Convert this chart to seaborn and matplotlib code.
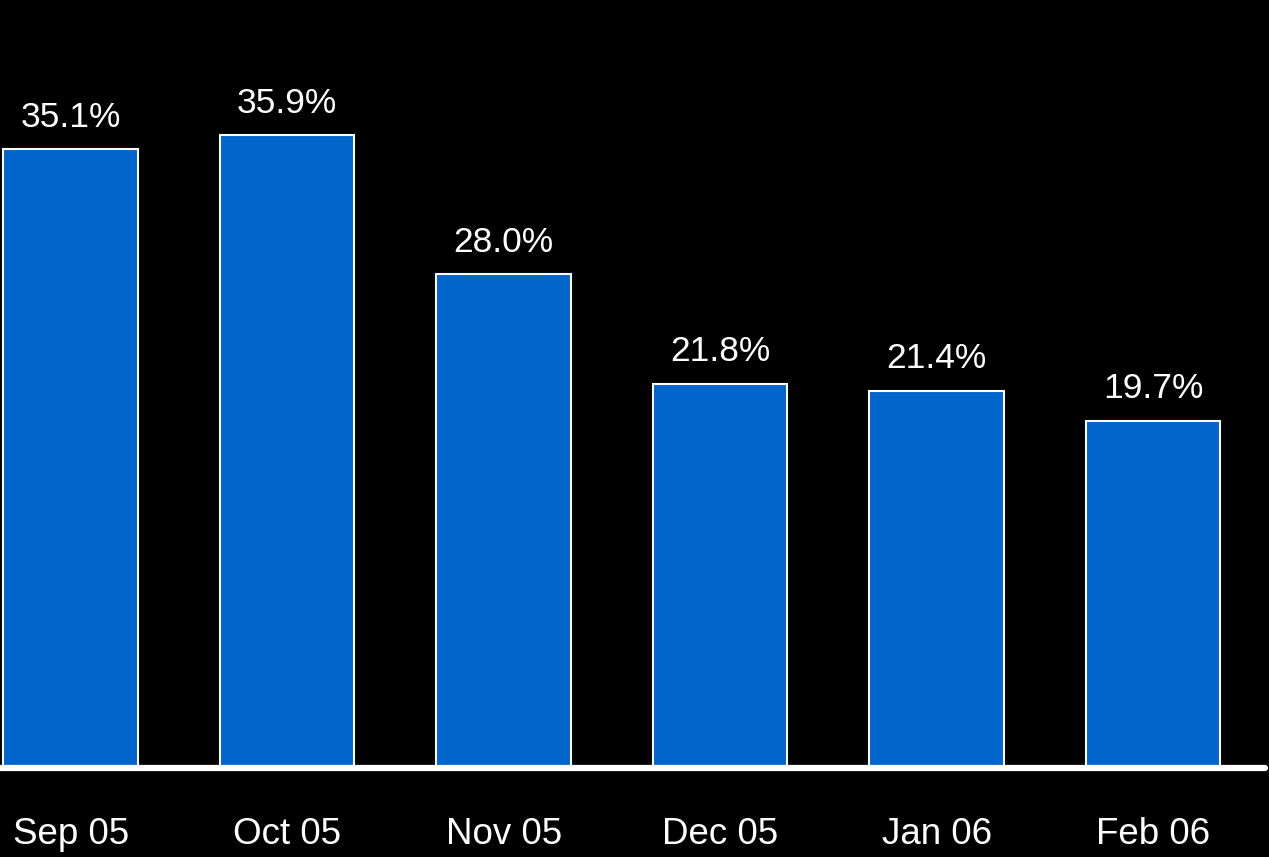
import matplotlib
matplotlib.use("Agg")
import matplotlib.pyplot as plt
import seaborn as sns
import pandas as pd

months = ["Sep 05", "Oct 05", "Nov 05", "Dec 05", "Jan 06", "Feb 06"]
share = [35.1, 35.9, 28.0, 21.8, 21.4, 19.7]

sns.set_style("dark")
plt.rcParams["font.family"] = ["Liberation Sans", "DejaVu Sans"]

df = pd.DataFrame({"month": months, "share": share})

fig = plt.figure(figsize=(12.69, 8.57), dpi=100, facecolor="black")
ax = fig.add_axes([0, 0.1039, 1265 / 1269, 0.8961])
ax.set_facecolor("black")

sns.barplot(data=df, x="month", y="share", color="#0066CC", saturation=1,
            edgecolor="white", linewidth=1.5, width=0.62, ax=ax)

ax.bar_label(ax.containers[0], labels=[f"{v:.1f}%" for v in share],
             padding=11, color="white", fontsize=25.5)

ax.set_xlim(-0.326, 5.517)
ax.set_ylim(0, 43.56)
ax.set_xlabel("")
ax.set_ylabel("")
ax.set_yticks([])
ax.grid(False)
ax.tick_params(axis="x", length=0, pad=35, labelsize=26.5, labelcolor="white")

for side in ["top", "left", "right"]:
    ax.spines[side].set_visible(False)
bottom = ax.spines["bottom"]
bottom.set_visible(True)
bottom.set_color("white")
bottom.set_linewidth(4.5)
bottom.set_capstyle("round")
bottom.set_zorder(5)

fig.savefig("out.png", dpi=100, facecolor="black")
